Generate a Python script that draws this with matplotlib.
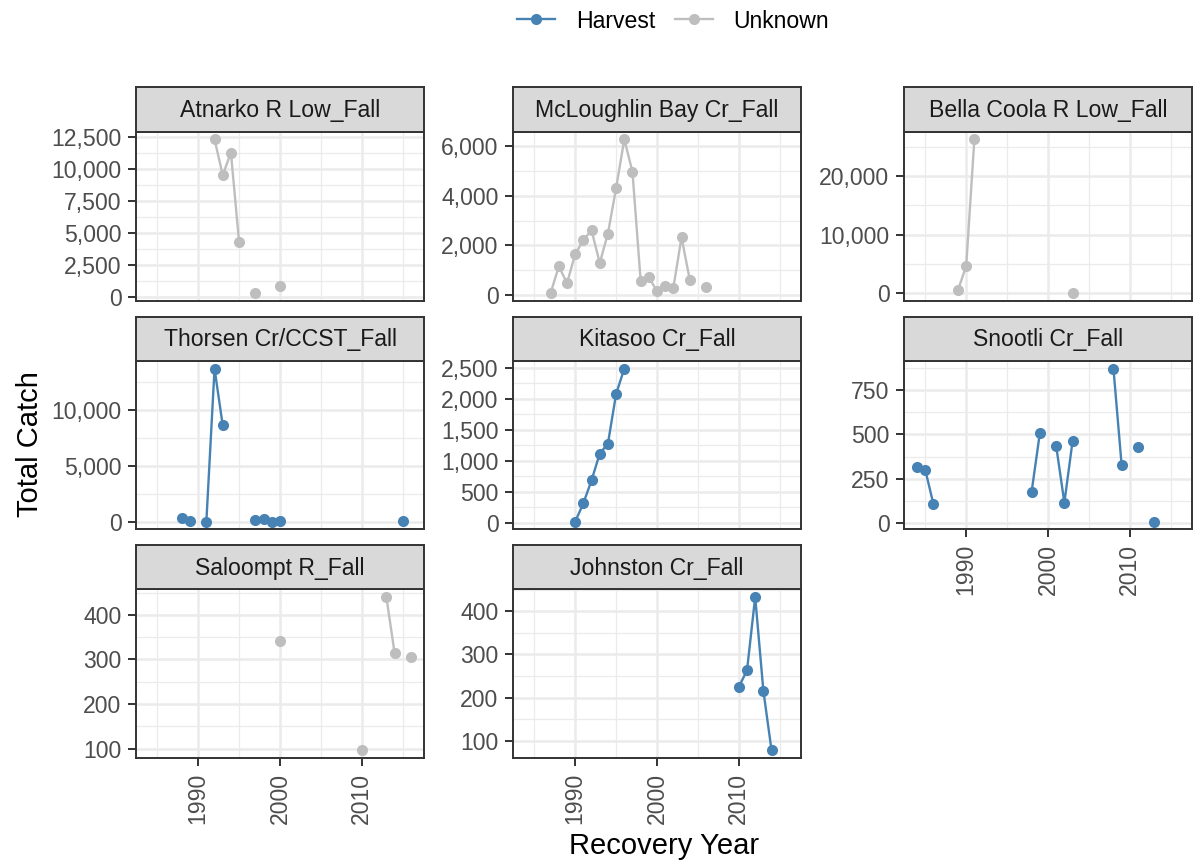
import numpy as np
import matplotlib
matplotlib.use("Agg")
import matplotlib.pyplot as plt
from matplotlib.lines import Line2D
from matplotlib.ticker import MultipleLocator, FuncFormatter

plt.rcParams['font.family'] = ['Liberation Sans', 'DejaVu Sans']

# ---------------- data ----------------
panels = ["Atnarko R Low_Fall", "McLoughlin Bay Cr_Fall", "Bella Coola R Low_Fall",
          "Thorsen Cr/CCST_Fall", "Kitasoo Cr_Fall", "Snootli Cr_Fall",
          "Saloompt R_Fall", "Johnston Cr_Fall"]
fishery_type = ["Unknown", "Unknown", "Unknown", "Harvest", "Harvest", "Harvest",
                "Unknown", "Harvest"]

atnarko_years = [1992, 1993, 1994, 1995, 1997, 2000]
atnarko_catch = [12290, 9500, 11250, 4270, 290, 830]

mcloughlin_years = [1987, 1988, 1989, 1990, 1991, 1992, 1993, 1994, 1995, 1996,
                    1997, 1998, 1999, 2000, 2001, 2002, 2003, 2004, 2006]
mcloughlin_catch = [70, 1150, 470, 1635, 2215, 2610, 1285, 2475, 4310, 6285,
                    4975, 570, 700, 150, 340, 285, 2325, 610, 325]

bella_years = [1989, 1990, 1991, 2003]
bella_catch = [570, 4660, 26250, 60]

thorsen_years = [1988, 1989, 1991, 1992, 1993, 1997, 1998, 1999, 2000, 2015]
thorsen_catch = [340, 30, 20, 13700, 8620, 150, 210, 10, 90, 70]

kitasoo_years = [1990, 1991, 1992, 1993, 1994, 1995, 1996]
kitasoo_catch = [16, 312, 683, 1113, 1274, 2075, 2484]

snootli_years = [1984, 1985, 1986, 1998, 1999, 2001, 2002, 2003, 2008, 2009, 2011, 2013]
snootli_catch = [319, 300, 107, 178, 506, 435, 116, 461, 870, 326, 431, 9]

saloompt_years = [2000, 2010, 2013, 2014, 2016]
saloompt_catch = [342, 96, 440, 315, 306]

johnston_years = [2010, 2011, 2012, 2013, 2014]
johnston_catch = [225, 263, 433, 216, 78]

years_list = [atnarko_years, mcloughlin_years, bella_years, thorsen_years,
              kitasoo_years, snootli_years, saloompt_years, johnston_years]
catch_list = [atnarko_catch, mcloughlin_catch, bella_catch, thorsen_catch,
              kitasoo_catch, snootli_catch, saloompt_catch, johnston_catch]

x_breaks = [1990, 2000, 2010]
y_steps = [2500, 2000, 10000, 5000, 500, 250, 100, 100]

colors = {"Harvest": "#4682B4", "Unknown": "#BEBEBE"}

# ---------------- layout ----------------
W, H = 1194, 865
fig = plt.figure(figsize=(W / 100, H / 100), dpi=100)
fig.patch.set_facecolor("white")

col_left = [136, 513, 904]
pw = 288
rows = [(87.3, 131.7, 300.7), (316.7, 361.0, 529.3), (545.0, 589.3, 758.0)]

fs = 16.6
border_c = "#333333"
grid_c = "#EBEBEB"

all_years = [y for ys in years_list for y in ys]
xmin, xmax = min(all_years), max(all_years)
xr = xmax - xmin
xlim = (xmin - 0.05 * xr, xmax + 0.05 * xr)

bottom_in_col = {0: 6, 1: 7, 2: 5}

for i, name in enumerate(panels):
    r, c = divmod(i, 3)
    st, pt, pb = rows[r]
    left = col_left[c] / W
    ax = fig.add_axes([left, 1 - pb / H, pw / W, (pb - pt) / H])
    sx = fig.add_axes([left, 1 - pt / H, pw / W, (pt - st) / H])

    yrs = np.array(years_list[i], dtype=float)
    vals = np.array(catch_list[i], dtype=float)
    col = colors[fishery_type[i]]

    # break lines at missing years
    breaks = np.where(np.diff(yrs) > 1)[0] + 1
    for sy, sv in zip(np.split(yrs, breaks), np.split(vals, breaks)):
        if len(sy) > 1:
            ax.plot(sy, sv, color=col, lw=1.7, zorder=3, solid_capstyle="butt")
    ax.plot(yrs, vals, "o", color=col, ms=8.0, mec="none", zorder=4, clip_on=False)

    ymn, ymx = vals.min(), vals.max()
    yr = ymx - ymn
    ax.set_xlim(*xlim)
    ax.set_ylim(ymn - 0.05 * yr, ymx + 0.05 * yr)

    ax.set_xticks(x_breaks)
    ax.xaxis.set_minor_locator(MultipleLocator(5))
    ax.yaxis.set_major_locator(MultipleLocator(y_steps[i]))
    ax.yaxis.set_minor_locator(MultipleLocator(y_steps[i] / 2))
    ax.yaxis.set_major_formatter(FuncFormatter(lambda v, p: f"{v:,.0f}"))

    ax.grid(True, which="major", color=grid_c, lw=1.8, zorder=0)
    ax.grid(True, which="minor", color=grid_c, lw=0.9, zorder=0)
    ax.set_axisbelow(True)
    ax.tick_params(which="minor", length=0)
    ax.tick_params(which="major", length=5.5, width=1.4, color=border_c,
                   labelsize=fs, labelcolor="#4D4D4D", pad=5)
    if bottom_in_col[c] == i:
        ax.tick_params(axis="x", labelrotation=90, pad=5)
        for lab in ax.get_xticklabels():
            lab.set_va("top")
    else:
        ax.tick_params(axis="x", length=0, labelbottom=False)
    for sp in ax.spines.values():
        sp.set_color(border_c)
        sp.set_linewidth(1.4)
        sp.set_zorder(5)

    sx.set_facecolor("#D9D9D9")
    sx.set_xticks([])
    sx.set_yticks([])
    for sp in sx.spines.values():
        sp.set_color(border_c)
        sp.set_linewidth(1.4)
    sx.text(0.5, 0.48, name, ha="center", va="center", fontsize=fs,
            color="#1A1A1A", transform=sx.transAxes)

fig.text(664 / W, 1 - 846 / H, "Recovery Year", ha="center", va="center",
         fontsize=21, color="black")
fig.text(30 / W, 1 - 444 / H, "Total Catch", ha="center", va="center",
         rotation=90, fontsize=21, color="black")

handles = [Line2D([], [], color=colors[k], lw=1.7, marker="o", ms=8.0, mec="none")
           for k in ["Harvest", "Unknown"]]
fig.legend(handles, ["Harvest", "Unknown"], loc="center", ncol=2,
           bbox_to_anchor=(673 / W, 1 - 21 / H), frameon=False, fontsize=fs,
           handlelength=1.65, handletextpad=0.9, columnspacing=0.85)

fig.savefig("out.png", dpi=100)
